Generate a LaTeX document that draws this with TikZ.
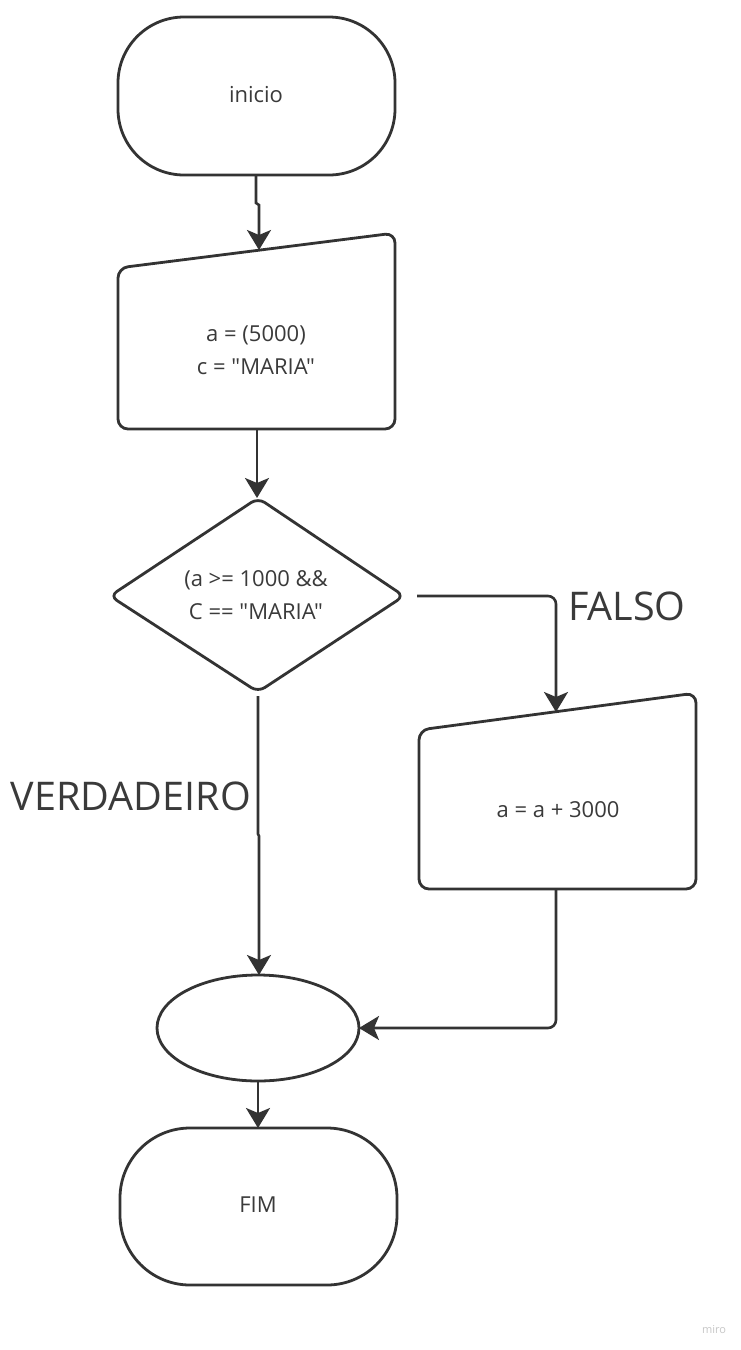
\documentclass[tikz,border=0pt]{standalone}
\usepackage{fontspec}
\setmainfont{Open Sans}[Ligatures=TeXOff]
\usetikzlibrary{arrows.meta}
\definecolor{ink}{HTML}{333333}
\definecolor{txt}{HTML}{3A3A3A}
\begin{document}
\begin{tikzpicture}[x=1pt,y=1pt,
  shape line/.style={draw=ink, line width=2.8pt},
  conn/.style={draw=ink, line width=2.6pt, -{Stealth[length=20pt,width=24pt,inset=5pt]}},
  round conn/.style={conn, rounded corners=8pt},
  lbl/.style={inner sep=0pt, text=txt, font=\fontsize{22}{33}\selectfont, align=center},
  big/.style={inner sep=0pt, text=txt, font=\fontsize{39.5}{44}\selectfont}]
\useasboundingbox (0,0) rectangle (740,-1350);
\fill[white] (0,0) rectangle (740,-1350);

% shapes
\draw[shape line, rounded corners=66pt] (118,-17) rectangle (395,-175);
\draw[shape line, rounded corners=10pt] (118,-268) -- (395,-233) -- (395,-429) -- (118,-429) -- cycle;
\draw[shape line, rounded corners=8pt] (258,-498) -- (404,-596) -- (258,-692) -- (110,-596) -- cycle;
\draw[shape line, rounded corners=10pt] (419,-730) -- (696,-693) -- (696,-889) -- (419,-889) -- cycle;
\draw[shape line] (258,-1028) ellipse [x radius=101pt, y radius=53pt];
\draw[shape line, rounded corners=70pt] (120,-1128) rectangle (397,-1285);

% texts
\node[lbl] (tinicio) at (256,-95) {inicio};
\node[lbl] (tinput) at (256,-350) {a = (5000)\\c = "MARIA"};
\node[lbl] (tdec) at (256,-595) {(a >= 1000 \&\&\\C == "MARIA"};
\node[lbl] (tsum) at (558,-810) {a = a + 3000};
\node[lbl] (tfim) at (258,-1205) {FIM};
\node[big, anchor=west] (lfalso) at (568,-606) {FALSO};
\node[big, anchor=east] (lverd) at (251,-796) {VERDADEIRO};
\node[inner sep=0pt, text=black!22, font=\fontsize{11}{12}\selectfont] (miro) at (714,-1329) {miro};

% connection points
\coordinate (inicioS) at (256,-175);
\coordinate (j1) at (256,-203);
\coordinate (j2) at (259,-205);
\coordinate (inputN) at (259,-250);
\coordinate (inputS) at (257,-429);
\coordinate (decN) at (257,-498);
\coordinate (decE) at (417,-596);
\coordinate (fturn) at (556,-596);
\coordinate (sumN) at (556,-712);
\coordinate (decS) at (258,-696);
\coordinate (j3) at (258,-834);
\coordinate (j4) at (259,-836);
\coordinate (ellN) at (259,-975);
\coordinate (sumS) at (556,-889);
\coordinate (rturn) at (556,-1028);
\coordinate (ellE) at (359,-1028);
\coordinate (ellS) at (258,-1081);
\coordinate (fimN) at (258,-1128);

% connectors
\draw[conn] (inicioS) -- (j1) -- (j2) -- (inputN);
\draw[conn] (inputS) -- (decN);
\draw[round conn] (decE) -- (fturn) -- (sumN);
\draw[conn] (decS) -- (j3) -- (j4) -- (ellN);
\draw[round conn] (sumS) -- (rturn) -- (ellE);
\draw[conn] (ellS) -- (fimN);
\end{tikzpicture}
\end{document}
